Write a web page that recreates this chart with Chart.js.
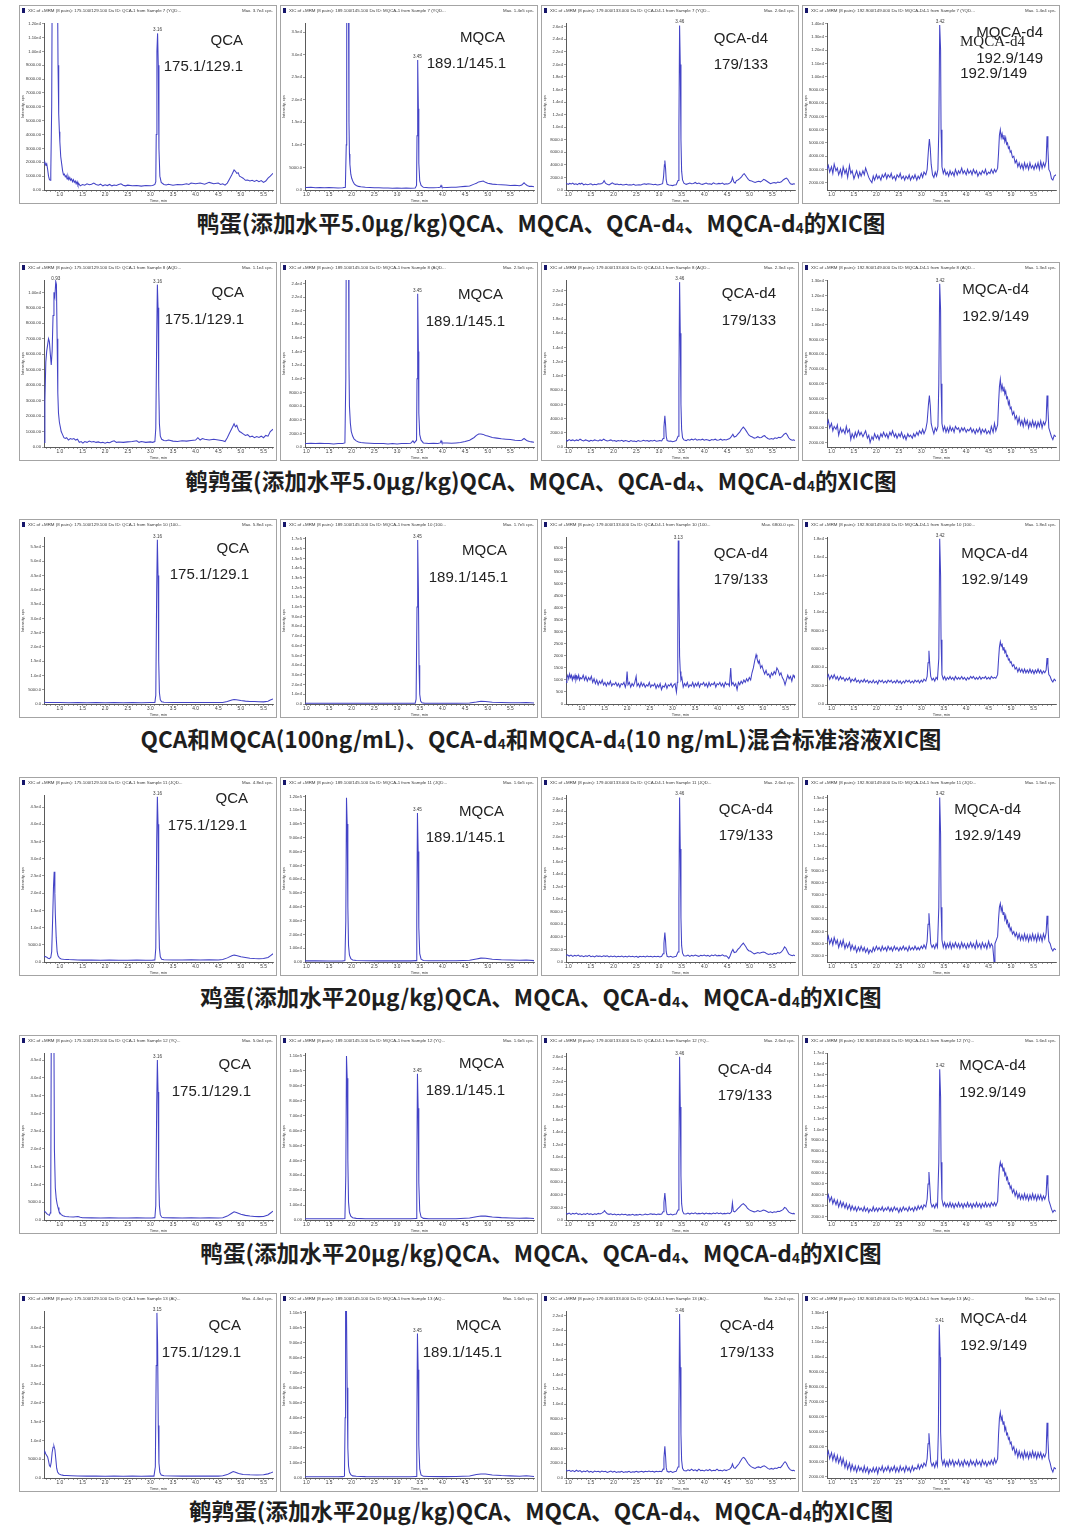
<!DOCTYPE html>
<html><head><meta charset="utf-8">
<script src="https://cdn.jsdelivr.net/npm/chart.js@4.4.1/dist/chart.umd.min.js"></script>
<style>
html,body{margin:0;padding:0;background:#fff;width:1080px;height:1528px;overflow:hidden;position:relative;}
.panel{position:absolute;width:258px;height:199px;border:1px solid #a4a4a4;box-sizing:border-box;background:#fff;}
.panel canvas{position:absolute;left:0;top:0;}
.lbl{position:absolute;font-family:"Liberation Sans",Arial,sans-serif;font-size:15px;color:#222;line-height:1;white-space:nowrap;transform:translateY(-50%);}
.lbl.serif{font-family:"Liberation Serif","Times New Roman",serif;}
.cap{position:absolute;left:0;width:1082px;text-align:center;font-family:"Noto Sans CJK SC",sans-serif;font-weight:700;font-size:22.6px;color:#1e1e1e;line-height:1;white-space:nowrap;transform:translateY(-50%);}
.cap sub{font-size:0.62em;vertical-align:-0.12em;line-height:0;}
</style></head><body>
<script>
// ---------------- data (intensities in kcps, time in min) ----------------
const COLUMN_NAMES = ['QCA','MQCA','QCA-d4','MQCA-d4'];
const TRANSITIONS = ['175.1/129.1','189.1/145.1','179/133','192.9/149'];
const HDR_ID = ['175.100/129.100 Da ID: QCA-1','189.100/145.100 Da ID: MQCA-1','179.000/133.000 Da ID: QCA-D4-1','192.900/149.000 Da ID: MQCA-D4-1'];
const SAMPLE_NO = ['7 (YQD...','8 (AQD...','10 (100...','11 (JQD...','12 (YQ...','13 (AQ...'];
const MAX_TXT = [
 'Max. 3.7e4 cps.','Max. 1.4e5 cps.','Max. 2.6e4 cps.','Max. 1.4e4 cps.',
 'Max. 1.1e4 cps.','Max. 2.5e5 cps.','Max. 2.3e4 cps.','Max. 1.3e4 cps.',
 'Max. 5.8e4 cps.','Max. 1.7e5 cps.','Max. 6800.0 cps.','Max. 1.8e4 cps.',
 'Max. 4.8e4 cps.','Max. 1.6e5 cps.','Max. 2.6e4 cps.','Max. 1.5e4 cps.',
 'Max. 5.0e4 cps.','Max. 1.6e5 cps.','Max. 2.6e4 cps.','Max. 1.6e4 cps.',
 'Max. 4.4e4 cps.','Max. 1.6e5 cps.','Max. 2.2e4 cps.','Max. 1.2e4 cps.'];
const CAPTIONS = [
 '鸭蛋(添加水平5.0μg/kg)QCA、MQCA、QCA-d<sub>4</sub>、MQCA-d<sub>4</sub>的XIC图',
 '鹌鹑蛋(添加水平5.0μg/kg)QCA、MQCA、QCA-d<sub>4</sub>、MQCA-d<sub>4</sub>的XIC图',
 'QCA和MQCA(100ng/mL)、QCA-d<sub>4</sub>和MQCA-d<sub>4</sub>(10 ng/mL)混合标准溶液XIC图',
 '鸡蛋(添加水平20μg/kg)QCA、MQCA、QCA-d<sub>4</sub>、MQCA-d<sub>4</sub>的XIC图',
 '鸭蛋(添加水平20μg/kg)QCA、MQCA、QCA-d<sub>4</sub>、MQCA-d<sub>4</sub>的XIC图',
 '鹌鹑蛋(添加水平20μg/kg)QCA、MQCA、QCA-d<sub>4</sub>、MQCA-d<sub>4</sub>的XIC图'];
const X_TICKS = [0.7,0.8,0.9,1.0,1.1,1.2,1.3,1.4,1.5,1.6,1.7,1.8,1.9,2.0,2.1,2.2,2.3,2.4,2.5,2.6,2.7,2.8,2.9,3.0,3.1,3.2,3.3,3.4,3.5,3.6,3.7,3.8,3.9,4.0,4.1,4.2,4.3,4.4,4.5,4.6,4.7,4.8,4.9,5.0,5.1,5.2,5.3,5.4,5.5,5.6,5.7,5.8,5.9,6.0];
const X_LABELS = [1.0,1.5,2.0,2.5,3.0,3.5,4.0,4.5,5.0,5.5];
const PANEL_XMIN = [0.65,0.97,0.95,0.9, 0.65,0.97,0.95,0.9, 0.65,0.97,0.65,0.9, 0.65,0.97,0.95,0.9, 0.65,0.97,0.95,0.9, 0.65,0.97,0.95,0.9];
const PANEL_XMAX = [5.71,6.02,6.0,6.0, 5.71,6.02,6.0,6.0, 5.71,6.02,5.71,6.0, 5.71,6.02,6.0,6.0, 5.71,6.02,6.0,6.0, 5.71,6.02,6.0,6.0];
const PANEL_YMIN = [0,0,0,1.45, 0,0,0,1.7, 0,0,0,0, 0,0,0,1.5, 0,0,0,1.7, 0,0,0,1.9];
const PANEL_YMAX = [12.05,37,26.6,14.05, 10.8,24.5,23.5,13.05, 58.5,172,6.95,18.2, 48.5,121,26.6,15.2, 47,112,26.6,17, 44.5,111,22.6,13.1];
const PANEL_YSTEP = [1,5,2,1, 1,2,2,1, 5,10,0.5,2, 5,10,2,1, 5,10,2,1, 5,10,2,1];
const PANEL_YDEC = [2,1,1,2, 2,1,1,2, 1,1,0,1, 1,2,1,1, 1,2,1,1, 1,2,1,2];
const PEAK_LABELS = [
 [[3.16,'3.16']],[[3.45,'3.45']],[[3.46,'3.46']],[[3.42,'3.42']],
 [[0.91,'0.93'],[3.16,'3.16']],[[3.45,'3.45']],[[3.46,'3.46']],[[3.42,'3.42']],
 [[3.16,'3.16']],[[3.45,'3.45']],[[3.13,'3.13']],[[3.42,'3.42']],
 [[3.16,'3.16']],[[3.45,'3.45']],[[3.46,'3.46']],[[3.42,'3.42']],
 [[3.16,'3.16']],[[3.45,'3.45']],[[3.46,'3.46']],[[3.42,'3.42']],
 [[3.15,'3.15']],[[3.45,'3.45']],[[3.46,'3.46']],[[3.41,'3.41']]];

// ---- series: flat [time, kcps, time, kcps, ...] ----
const R1_QCA = [0.65,1.9,0.67,2.0,0.69,1.8,0.71,1.9,0.73,1.5,0.75,1.0,0.77,0.75,0.79,0.7,0.8,1.2,0.82,6,0.83,14,0.95,14,0.96,9,0.97,6.9,0.98,5.5,0.99,4.2,1.0,3.5,1.02,2.4,1.04,1.9,1.06,1.4,1.08,1.1,1.1,1.15,1.12,0.95,1.14,1.05,1.16,0.8,1.18,1.0,1.2,0.75,1.22,0.9,1.24,0.7,1.26,0.8,1.28,0.6,1.3,0.75,1.32,0.55,1.34,0.65,1.36,0.45,1.38,0.6,1.4,0.35,1.42,0.45,1.45,0.3,1.5,0.4,1.55,0.35,1.6,0.45,1.65,0.38,1.7,0.42,1.75,0.5,1.8,0.4,1.85,0.35,1.9,0.42,1.95,0.3,2.0,0.38,2.05,0.32,2.1,0.4,2.15,0.3,2.2,0.36,2.25,0.33,2.3,0.4,2.35,0.45,2.4,0.35,2.45,0.3,2.5,0.35,2.6,0.3,2.7,0.33,2.8,0.28,2.9,0.32,3.0,0.3,3.05,0.33,3.1,0.4,3.12,0.6,3.13,4,3.145,10,3.16,11.3,3.175,9,3.19,3,3.21,1.0,3.24,0.55,3.3,0.4,3.35,0.36,3.4,0.42,3.5,0.35,3.6,0.4,3.7,0.38,3.8,0.45,3.85,0.4,3.9,0.5,4.0,0.45,4.1,0.5,4.2,0.42,4.3,0.55,4.4,0.45,4.5,0.5,4.55,0.4,4.6,0.45,4.65,0.35,4.7,0.5,4.75,0.8,4.8,1.1,4.85,1.45,4.88,1.35,4.91,1.2,4.94,1.25,4.97,1.0,5.0,0.95,5.05,0.85,5.1,0.7,5.15,0.72,5.2,0.65,5.25,0.7,5.3,0.62,5.35,0.7,5.4,0.6,5.45,0.68,5.5,0.55,5.55,0.65,5.6,0.85,5.65,1.0,5.71,1.2];
const R1_MQCA = [0.97,0.6,1.0,0.55,1.1,0.6,1.2,0.5,1.3,0.55,1.4,0.5,1.5,0.55,1.6,0.5,1.7,0.45,1.8,0.5,1.86,0.6,1.88,10,1.89,40,1.93,40,1.94,15,1.95,8,1.96,5.7,1.98,3.5,2.0,2.6,2.03,1.8,2.06,1.3,2.1,1.0,2.15,0.8,2.2,0.7,2.3,0.6,2.4,0.55,2.5,0.5,2.6,0.5,2.7,0.45,2.8,0.45,2.9,0.4,3.0,0.45,3.1,0.4,3.2,0.45,3.3,0.4,3.4,0.45,3.43,1.0,3.44,12,3.455,28.8,3.47,18,3.48,6,3.5,2.0,3.53,1.0,3.58,0.6,3.7,0.5,3.8,0.5,3.9,0.55,3.95,0.6,3.97,1.0,3.99,0.6,4.1,0.55,4.2,0.6,4.3,0.6,4.4,0.7,4.5,0.8,4.6,0.9,4.7,1.3,4.75,1.5,4.8,1.8,4.85,1.9,4.9,2.0,4.95,1.7,5.0,1.5,5.1,1.3,5.2,1.2,5.3,1.15,5.4,1.1,5.5,1.0,5.6,1.05,5.7,0.95,5.75,1.1,5.8,1.6,5.83,1.3,5.87,1.0,5.92,0.8,5.97,0.85,6.02,0.7];
const R1_QCAd4 = [0.95,1.1,1.0,0.9,1.03,1.05,1.07,0.95,1.1,1.1,1.13,0.9,1.17,1.0,1.2,0.85,1.24,1.05,1.27,0.95,1.3,1.1,1.34,0.8,1.38,0.95,1.42,0.85,1.46,0.9,1.5,1.0,1.54,0.8,1.58,0.9,1.62,0.85,1.66,1.0,1.7,0.95,1.74,1.05,1.77,1.2,1.79,1.5,1.82,1.1,1.86,0.9,1.9,0.8,1.94,1.0,1.97,1.15,2.0,1.0,2.04,0.9,2.08,0.95,2.12,0.85,2.16,0.9,2.2,0.8,2.24,0.85,2.28,0.9,2.32,0.8,2.36,0.85,2.4,0.8,2.44,0.9,2.48,0.75,2.52,0.8,2.56,0.85,2.6,0.8,2.64,0.9,2.68,1.0,2.72,0.9,2.76,1.0,2.8,0.95,2.84,0.9,2.88,0.85,2.92,0.9,2.96,0.8,3.0,0.85,3.04,0.9,3.08,1.0,3.1,2.0,3.12,4.0,3.13,4.7,3.145,3.5,3.16,1.6,3.18,0.9,3.22,0.8,3.26,0.75,3.3,0.7,3.34,0.8,3.38,0.85,3.42,1.5,3.44,10,3.455,26.2,3.47,20,3.485,8,3.5,3,3.52,1.6,3.55,1.1,3.6,0.9,3.64,1.0,3.68,1.1,3.72,1.0,3.76,1.05,3.8,1.2,3.84,1.0,3.88,1.1,3.92,0.95,3.96,0.9,4.0,1.0,4.04,1.1,4.08,0.95,4.12,1.0,4.16,0.9,4.2,1.15,4.24,1.0,4.28,0.95,4.32,1.05,4.36,1.0,4.4,1.1,4.44,0.9,4.48,1.0,4.52,0.95,4.56,1.1,4.6,1.4,4.62,2.0,4.65,1.3,4.68,1.1,4.71,1.5,4.74,1.6,4.78,1.8,4.82,2.1,4.86,2.5,4.88,2.6,4.91,2.3,4.94,2.0,4.97,1.7,5.0,1.5,5.04,1.45,5.08,1.3,5.12,1.2,5.16,1.3,5.2,1.4,5.24,1.3,5.28,1.5,5.31,1.7,5.34,1.6,5.38,1.4,5.42,1.2,5.46,1.0,5.5,1.1,5.54,1.2,5.58,1.1,5.62,1.25,5.66,1.2,5.7,1.3,5.74,1.6,5.78,1.8,5.81,1.9,5.84,1.7,5.87,1.3,5.9,1.0,5.94,0.9,5.97,1.0,6.0,0.95];
const R1_MQCAd4 = [0.9,3.0,0.93,3.3,0.96,2.8,1.0,3.2,1.03,2.7,1.06,3.4,1.1,2.9,1.13,3.1,1.16,2.6,1.2,3.0,1.23,2.5,1.26,3.2,1.3,2.7,1.33,3.0,1.36,2.4,1.4,3.3,1.43,2.7,1.46,2.9,1.5,2.3,1.53,2.6,1.56,2.9,1.6,2.4,1.63,2.8,1.66,2.5,1.7,2.9,1.73,2.6,1.76,3.1,1.8,2.7,1.83,2.4,1.86,2.2,1.9,2.0,1.93,2.5,1.96,2.2,2.0,2.6,2.03,2.3,2.06,2.5,2.1,2.2,2.13,2.6,2.16,2.4,2.2,2.7,2.23,2.3,2.26,2.6,2.3,2.4,2.33,2.7,2.36,2.3,2.4,2.5,2.43,2.2,2.46,2.6,2.5,2.4,2.53,2.7,2.56,2.3,2.6,2.5,2.63,2.2,2.66,2.5,2.7,2.3,2.73,2.6,2.76,2.2,2.8,2.5,2.83,2.3,2.86,2.6,2.9,2.2,2.93,2.5,2.96,2.3,3.0,2.7,3.03,2.4,3.06,2.8,3.1,2.6,3.13,3.0,3.16,4.5,3.18,5.3,3.2,4.6,3.22,3.4,3.25,2.6,3.28,2.4,3.31,2.8,3.34,2.5,3.37,3.0,3.39,6,3.41,13.9,3.43,12,3.44,6,3.46,3.2,3.49,2.7,3.52,3.0,3.55,2.6,3.58,2.8,3.61,2.5,3.64,2.9,3.67,2.6,3.7,2.8,3.73,2.5,3.76,3.0,3.8,2.6,3.83,2.9,3.86,2.7,3.9,3.1,3.93,2.7,3.96,2.9,4.0,2.6,4.03,3.0,4.06,2.7,4.1,2.9,4.13,2.6,4.16,3.0,4.2,2.7,4.23,2.9,4.26,2.5,4.3,2.8,4.33,2.6,4.36,2.9,4.4,2.7,4.43,3.0,4.46,2.6,4.5,2.8,4.53,2.7,4.56,3.0,4.6,2.7,4.63,3.0,4.66,2.8,4.7,3.1,4.72,4.2,4.74,5.6,4.76,6.0,4.78,5.4,4.8,5.7,4.82,5.3,4.84,5.6,4.86,5.1,4.88,5.4,4.9,4.9,4.92,5.0,4.94,4.6,4.96,4.7,4.98,4.3,5.0,4.4,5.03,3.9,5.06,4.0,5.09,3.5,5.12,3.7,5.15,3.2,5.18,3.5,5.21,3.1,5.24,3.4,5.27,3.0,5.3,3.5,5.33,3.1,5.36,3.4,5.39,3.0,5.42,3.5,5.45,3.1,5.48,3.3,5.51,3.0,5.54,3.4,5.57,3.1,5.6,3.5,5.63,3.0,5.66,3.6,5.69,3.1,5.72,3.5,5.75,3.2,5.78,3.6,5.8,5.5,5.82,4.5,5.84,3.0,5.87,2.8,5.9,2.3,5.93,2.2,5.96,2.5,6.0,2.6];

const R2_QCA = [0.655,0.3,0.67,3.0,0.69,5.5,0.71,6.2,0.73,6.6,0.75,7.0,0.77,6.8,0.79,6.0,0.81,5.3,0.83,6.2,0.85,8.5,0.87,10.0,0.89,9.7,0.91,10.7,0.925,10.5,0.94,7,0.955,3.5,0.97,2.2,0.99,1.6,1.01,1.3,1.03,1.0,1.06,0.8,1.09,0.6,1.12,0.55,1.15,0.6,1.19,0.45,1.23,0.55,1.27,0.5,1.31,0.55,1.35,0.45,1.39,0.5,1.43,0.3,1.47,0.35,1.51,0.25,1.55,0.35,1.6,0.3,1.65,0.38,1.7,0.32,1.75,0.36,1.8,0.3,1.85,0.33,1.9,0.28,1.95,0.3,2.0,0.25,2.05,0.3,2.1,0.28,2.15,0.35,2.2,0.4,2.25,0.3,2.3,0.32,2.4,0.3,2.5,0.33,2.6,0.35,2.7,0.4,2.75,0.3,2.8,0.35,2.9,0.3,3.0,0.33,3.05,0.3,3.1,0.35,3.12,1.2,3.14,7,3.155,10.5,3.17,9,3.185,4,3.2,1.5,3.22,0.7,3.25,0.5,3.3,0.42,3.35,0.4,3.4,0.45,3.5,0.38,3.6,0.35,3.7,0.4,3.8,0.38,3.9,0.42,4.0,0.45,4.05,0.6,4.1,0.45,4.15,0.55,4.2,0.5,4.3,0.45,4.4,0.5,4.5,0.45,4.6,0.4,4.65,0.35,4.7,0.6,4.75,0.9,4.8,1.2,4.85,1.5,4.88,1.3,4.91,1.4,4.94,1.15,4.97,1.0,5.0,0.95,5.05,0.85,5.1,0.75,5.15,0.8,5.2,0.65,5.25,0.7,5.3,0.6,5.35,0.68,5.4,0.62,5.45,0.7,5.5,0.6,5.55,0.75,5.6,0.7,5.65,1.0,5.71,1.15];
const R2_MQCA = [0.97,0.5,1.0,0.5,1.1,0.55,1.2,0.5,1.3,0.55,1.4,0.5,1.5,0.5,1.6,0.45,1.7,0.5,1.8,0.5,1.85,0.6,1.87,10,1.88,30,1.93,30,1.94,12,1.95,6,1.97,3.5,1.99,2.3,2.02,1.6,2.05,1.2,2.1,0.9,2.15,0.75,2.2,0.65,2.3,0.6,2.4,0.55,2.5,0.5,2.6,0.5,2.7,0.5,2.8,0.45,2.9,0.5,3.0,0.45,3.1,0.5,3.2,0.5,3.3,0.55,3.35,0.9,3.38,0.6,3.43,1.0,3.44,10,3.455,22.5,3.47,14,3.48,5,3.5,1.8,3.53,1.0,3.58,0.6,3.7,0.5,3.8,0.55,3.9,0.5,3.95,0.6,3.97,0.9,3.99,0.6,4.1,0.6,4.2,0.55,4.3,0.6,4.4,0.65,4.5,0.8,4.6,1.0,4.7,1.4,4.75,1.7,4.8,1.9,4.85,1.9,4.9,1.85,4.95,1.7,5.0,1.6,5.1,1.4,5.2,1.3,5.3,1.2,5.4,1.15,5.5,1.1,5.6,1.0,5.7,0.95,5.75,1.0,5.8,1.25,5.83,1.1,5.87,0.9,5.92,0.8,5.97,0.75,6.02,0.7];
const R2_QCAd4 = [0.95,1.0,0.98,0.85,1.02,1.05,1.06,0.9,1.1,1.0,1.14,0.85,1.18,1.0,1.22,0.9,1.26,1.1,1.3,0.95,1.34,0.85,1.38,1.0,1.42,0.9,1.46,0.8,1.5,0.95,1.54,0.85,1.58,1.0,1.62,0.9,1.66,0.85,1.7,1.0,1.74,0.9,1.78,1.1,1.82,0.95,1.86,0.85,1.9,0.9,1.94,1.0,1.98,0.85,2.02,0.9,2.06,0.8,2.1,0.9,2.14,0.85,2.18,0.95,2.22,0.8,2.26,0.9,2.3,0.85,2.34,0.75,2.38,0.9,2.42,0.8,2.46,0.85,2.5,0.75,2.54,0.9,2.58,0.8,2.62,0.85,2.66,0.95,2.7,0.85,2.74,0.9,2.78,0.8,2.82,0.9,2.86,0.85,2.9,0.95,2.94,0.8,2.98,0.85,3.02,0.9,3.06,0.85,3.09,1.2,3.11,2.8,3.13,4.4,3.145,3.2,3.16,1.5,3.18,0.9,3.22,0.8,3.26,0.85,3.3,0.75,3.34,0.8,3.38,0.9,3.42,1.5,3.44,9,3.455,23.2,3.47,16,3.485,6,3.5,2.5,3.52,1.3,3.55,1.0,3.6,0.9,3.64,1.05,3.68,0.95,3.72,1.1,3.76,1.0,3.8,1.15,3.84,0.95,3.88,1.05,3.92,1.0,3.96,1.1,4.0,0.95,4.04,1.05,4.08,1.0,4.12,0.9,4.16,1.05,4.2,1.0,4.24,1.1,4.28,0.95,4.32,1.0,4.36,1.1,4.4,0.95,4.44,1.05,4.48,1.0,4.52,1.1,4.56,1.2,4.6,1.5,4.63,1.8,4.66,1.4,4.7,1.5,4.74,1.8,4.78,2.1,4.82,2.5,4.86,2.8,4.89,2.6,4.92,2.3,4.95,2.0,4.98,1.7,5.02,1.5,5.06,1.4,5.1,1.25,5.14,1.3,5.18,1.45,5.22,1.3,5.26,1.35,5.3,1.55,5.33,1.6,5.36,1.4,5.4,1.2,5.44,1.1,5.48,1.2,5.52,1.1,5.56,1.3,5.6,1.2,5.64,1.35,5.68,1.3,5.72,1.5,5.76,1.8,5.8,1.95,5.83,1.7,5.86,1.3,5.9,1.05,5.94,0.95,5.97,1.0,6.0,0.9];
const R2_MQCAd4 = [0.9,3.2,0.93,3.5,0.96,3.0,1.0,3.3,1.03,2.8,1.06,3.1,1.1,2.9,1.13,3.2,1.16,2.5,1.2,3.0,1.23,2.7,1.26,2.9,1.3,2.6,1.33,3.1,1.36,2.7,1.4,2.9,1.43,2.2,1.46,2.6,1.5,2.3,1.53,2.7,1.56,2.4,1.6,2.8,1.63,2.5,1.66,2.7,1.7,2.4,1.73,2.6,1.76,2.8,1.8,2.3,1.83,2.5,1.86,2.0,1.9,2.4,1.93,2.2,1.96,2.6,2.0,2.3,2.03,2.5,2.06,2.2,2.1,2.6,2.13,2.4,2.16,2.7,2.2,2.4,2.23,2.6,2.26,2.3,2.3,2.7,2.33,2.5,2.36,2.8,2.4,2.4,2.43,2.6,2.46,2.3,2.5,2.6,2.53,2.4,2.56,2.7,2.6,2.3,2.63,2.5,2.66,2.2,2.7,2.6,2.73,2.4,2.76,2.5,2.8,2.3,2.83,2.6,2.86,2.4,2.9,2.7,2.93,2.5,2.96,2.8,3.0,2.6,3.03,2.9,3.06,2.6,3.1,2.9,3.13,3.4,3.16,4.6,3.18,5.2,3.2,4.5,3.22,3.3,3.25,2.9,3.28,2.6,3.31,3.0,3.34,2.8,3.37,3.1,3.39,6,3.41,12.8,3.43,11,3.44,6,3.46,3.3,3.49,2.8,3.52,3.1,3.55,2.7,3.58,3.0,3.61,2.7,3.64,3.1,3.67,2.8,3.7,3.0,3.73,2.7,3.76,3.1,3.8,2.9,3.83,3.0,3.86,2.7,3.9,3.0,3.93,2.8,3.96,3.0,4.0,2.7,4.03,2.9,4.06,2.8,4.1,3.0,4.13,2.7,4.16,2.9,4.2,2.6,4.23,2.9,4.26,2.7,4.3,3.0,4.33,2.6,4.36,2.9,4.4,2.7,4.43,2.9,4.46,2.6,4.5,2.8,4.53,2.6,4.56,3.1,4.6,2.7,4.63,3.3,4.66,2.8,4.7,3.2,4.72,4.6,4.74,5.8,4.76,6.3,4.78,5.6,4.8,5.9,4.82,5.5,4.84,5.8,4.86,5.3,4.88,5.5,4.9,5.0,4.92,5.1,4.94,4.6,4.96,4.8,4.98,4.3,5.0,4.4,5.03,3.9,5.06,4.1,5.09,3.6,5.12,3.8,5.15,3.3,5.18,3.7,5.21,3.2,5.24,3.5,5.27,3.1,5.3,3.6,5.33,3.2,5.36,3.5,5.39,3.0,5.42,3.4,5.45,3.1,5.48,3.5,5.51,3.1,5.54,3.4,5.57,3.0,5.6,3.4,5.63,3.1,5.66,3.5,5.69,3.0,5.72,3.4,5.75,3.2,5.78,3.5,5.8,5.2,5.82,4.3,5.84,3.0,5.87,2.7,5.9,2.4,5.93,2.2,5.96,2.5,6.0,2.4];

const R3_QCA = [0.65,0.6,0.7,0.55,0.8,0.5,0.9,0.55,1.0,0.5,1.2,0.45,1.4,0.5,1.6,0.45,1.8,0.5,2.0,0.45,2.2,0.5,2.4,0.45,2.6,0.5,2.8,0.45,3.0,0.5,3.1,0.55,3.12,3,3.14,40,3.155,57.5,3.17,45,3.185,15,3.2,4,3.22,1.5,3.25,0.8,3.3,0.6,3.5,0.55,3.7,0.5,3.9,0.55,4.1,0.5,4.3,0.55,4.5,0.5,4.6,0.55,4.7,0.9,4.8,1.4,4.85,1.6,4.9,1.5,5.0,1.2,5.1,1.0,5.2,0.9,5.3,0.85,5.4,0.8,5.5,0.75,5.6,1.0,5.65,1.4,5.71,1.8];
const R3_MQCA = [0.97,0.8,1.2,0.8,1.5,0.75,1.8,0.8,2.1,0.75,2.4,0.8,2.7,0.75,3.0,0.8,3.3,0.8,3.4,0.9,3.42,5,3.44,100,3.455,169,3.47,120,3.485,40,3.5,10,3.52,3,3.55,1.2,3.6,0.9,3.8,0.8,4.0,0.85,4.3,0.8,4.6,1.0,4.75,2.0,4.85,2.8,4.95,2.6,5.1,1.8,5.3,1.5,5.5,1.3,5.7,1.2,5.85,1.5,6.02,1.0];
const R3_QCAd4 = [0.65,0.9,0.67,1.1,0.69,1.2,0.71,1.05,0.73,1.25,0.75,1.1,0.77,1.2,0.79,1.0,0.81,1.15,0.83,1.05,0.85,1.2,0.87,1.0,0.89,1.15,0.91,1.05,0.93,1.2,0.95,1.0,0.97,1.1,1.0,1.05,1.03,1.2,1.06,1.0,1.09,1.15,1.12,0.95,1.15,1.1,1.18,1.0,1.21,1.15,1.24,0.9,1.27,1.05,1.3,0.85,1.33,1.0,1.36,0.8,1.39,0.95,1.42,0.85,1.45,1.0,1.48,0.8,1.51,0.9,1.54,0.75,1.57,0.9,1.6,0.8,1.63,0.95,1.66,0.75,1.69,0.85,1.72,0.8,1.75,0.9,1.78,0.75,1.81,0.85,1.84,0.7,1.87,0.85,1.9,0.8,1.93,0.9,1.96,0.7,1.98,0.85,2.0,1.35,2.02,0.8,2.05,0.9,2.08,0.7,2.11,0.85,2.14,0.75,2.17,0.9,2.2,1.15,2.22,0.75,2.25,0.85,2.28,0.7,2.31,0.9,2.34,0.75,2.37,0.85,2.4,0.7,2.43,0.8,2.46,0.75,2.49,0.9,2.52,0.7,2.55,0.8,2.58,0.75,2.61,0.85,2.64,0.65,2.67,0.8,2.7,0.7,2.73,0.85,2.76,0.6,2.79,0.75,2.82,0.7,2.85,0.85,2.88,0.65,2.91,0.8,2.94,0.75,2.97,0.85,3.0,0.7,3.03,0.8,3.06,0.85,3.09,0.5,3.11,0.9,3.12,3,3.13,6.8,3.145,5,3.16,2,3.175,1.35,3.19,1.0,3.21,1.1,3.24,0.7,3.27,0.85,3.3,0.75,3.33,0.9,3.36,0.7,3.39,0.8,3.42,0.75,3.45,0.9,3.48,0.7,3.51,0.85,3.54,0.75,3.57,0.9,3.6,0.7,3.63,0.85,3.66,0.8,3.69,0.9,3.72,0.75,3.75,0.85,3.78,0.7,3.81,0.9,3.84,0.75,3.87,0.85,3.9,0.8,3.93,0.9,3.96,0.7,3.99,0.85,4.02,0.8,4.05,0.9,4.08,0.75,4.11,0.85,4.14,0.7,4.17,0.9,4.2,0.8,4.23,0.85,4.26,0.75,4.29,1.5,4.31,0.8,4.34,0.9,4.37,0.75,4.4,0.85,4.43,0.6,4.46,0.9,4.49,0.8,4.52,0.95,4.55,0.85,4.58,1.0,4.61,0.9,4.64,1.05,4.67,0.95,4.7,1.1,4.73,1.0,4.76,1.3,4.79,1.5,4.82,1.8,4.85,2.05,4.87,1.9,4.9,1.7,4.92,1.8,4.95,1.5,4.98,1.6,5.01,1.4,5.04,1.25,5.07,1.4,5.1,1.2,5.13,1.25,5.16,1.1,5.19,1.3,5.22,1.2,5.25,1.35,5.28,1.25,5.31,1.5,5.34,1.4,5.37,1.2,5.4,1.3,5.43,1.1,5.46,1.0,5.49,0.8,5.52,1.0,5.55,1.2,5.58,1.05,5.61,1.15,5.64,0.95,5.67,1.2,5.7,1.1,5.71,1.2];
const R3_MQCAd4 = [0.9,2.9,0.93,3.2,0.96,2.7,1.0,3.1,1.03,2.8,1.06,3.2,1.1,2.7,1.13,3.0,1.16,2.6,1.2,3.0,1.23,2.7,1.26,2.9,1.3,2.5,1.33,2.8,1.36,2.6,1.4,2.9,1.43,2.4,1.46,2.7,1.5,2.5,1.53,2.8,1.56,2.4,1.6,2.6,1.63,2.3,1.66,2.6,1.7,2.4,1.73,2.7,1.76,2.4,1.8,2.6,1.83,2.3,1.86,2.5,1.9,2.3,1.93,2.6,1.96,2.3,2.0,2.5,2.03,2.2,2.06,2.6,2.1,2.4,2.13,2.6,2.16,2.3,2.2,2.5,2.23,2.3,2.26,2.6,2.3,2.4,2.33,2.6,2.36,2.3,2.4,2.5,2.43,2.3,2.46,2.6,2.5,2.3,2.53,2.5,2.56,2.2,2.6,2.5,2.63,2.3,2.66,2.6,2.7,2.4,2.73,2.6,2.76,2.3,2.8,2.5,2.83,2.3,2.86,2.6,2.9,2.4,2.93,2.6,2.96,2.3,3.0,2.6,3.03,2.4,3.06,2.7,3.1,2.5,3.13,3.0,3.15,4.5,3.17,5.8,3.19,4.2,3.21,3.0,3.24,2.6,3.27,2.8,3.3,2.5,3.33,2.9,3.36,2.7,3.39,5,3.41,18.0,3.43,14,3.44,7,3.46,3.2,3.49,2.7,3.52,3.0,3.55,2.6,3.58,2.9,3.61,2.7,3.64,3.0,3.67,2.7,3.7,2.9,3.73,2.6,3.76,3.0,3.8,2.7,3.83,2.9,3.86,2.7,3.9,3.0,3.93,2.7,3.96,2.9,4.0,2.6,4.03,2.9,4.06,2.7,4.1,3.0,4.13,2.8,4.16,3.0,4.2,2.7,4.23,2.9,4.26,2.7,4.3,3.0,4.33,2.7,4.36,2.9,4.4,2.8,4.43,3.0,4.46,2.7,4.5,2.9,4.53,2.7,4.56,3.0,4.6,2.8,4.63,2.9,4.66,2.8,4.7,3.2,4.72,4.8,4.74,6.2,4.76,6.8,4.78,6.3,4.8,6.5,4.82,5.9,4.84,6.2,4.86,5.6,4.88,5.8,4.9,5.2,4.92,5.3,4.94,4.8,4.96,4.9,4.98,4.5,5.0,4.6,5.03,4.1,5.06,4.3,5.09,3.8,5.12,4.0,5.15,3.5,5.18,3.9,5.21,3.5,5.24,3.8,5.27,3.4,5.3,3.8,5.33,3.4,5.36,3.7,5.39,3.4,5.42,3.8,5.45,3.4,5.48,3.7,5.51,3.3,5.54,3.7,5.57,3.4,5.6,3.8,5.63,3.4,5.66,3.7,5.69,3.3,5.72,3.6,5.75,3.4,5.78,3.7,5.8,5.0,5.82,4.2,5.84,3.2,5.87,3.0,5.9,2.6,5.93,2.4,5.96,2.7,6.0,2.5];

const R4_QCA = [0.65,1.5,0.68,1.6,0.71,1.4,0.74,1.1,0.77,1.0,0.8,1.3,0.82,3,0.84,12,0.86,22,0.875,26.2,0.89,20,0.9,14,0.92,7,0.94,3,0.96,1.8,0.99,1.2,1.03,0.9,1.08,0.8,1.15,0.75,1.2,0.7,1.3,0.65,1.4,0.6,1.5,0.55,1.7,0.55,1.9,0.5,2.1,0.55,2.3,0.5,2.5,0.5,2.7,0.55,2.9,0.5,3.05,0.55,3.1,0.6,3.12,4,3.14,35,3.155,48,3.17,40,3.185,14,3.2,4,3.22,1.5,3.25,0.8,3.3,0.65,3.5,0.6,3.7,0.6,3.9,0.65,4.1,0.6,4.3,0.65,4.5,0.6,4.6,0.7,4.7,1.2,4.8,1.8,4.85,2.0,4.9,1.9,5.0,1.5,5.1,1.3,5.2,1.1,5.3,1.0,5.4,0.95,5.5,1.0,5.6,1.3,5.65,1.8,5.71,2.4];
const R4_MQCA = [0.97,0.8,1.2,0.8,1.5,0.75,1.8,0.8,1.85,1.0,1.87,30,1.885,119,1.9,100,1.915,40,1.93,12,1.95,5,1.98,2.5,2.02,1.5,2.1,1.1,2.3,0.9,2.6,0.8,3.0,0.8,3.3,0.8,3.42,1.0,3.435,30,3.45,108,3.465,80,3.48,25,3.5,6,3.53,2,3.58,1.1,3.7,0.9,4.0,0.85,4.3,0.9,4.6,1.2,4.75,2.2,4.85,2.8,4.95,2.7,5.1,2.0,5.3,1.6,5.5,1.4,5.7,1.2,5.85,1.4,6.02,1.0];
const R4_QCAd4 = [0.95,1.0,0.98,1.15,1.02,0.95,1.06,1.1,1.1,0.9,1.14,1.05,1.18,0.95,1.22,1.1,1.26,0.9,1.3,1.0,1.34,0.85,1.38,1.0,1.42,0.9,1.46,1.05,1.5,0.85,1.54,0.95,1.58,0.8,1.62,1.0,1.66,0.9,1.7,0.95,1.74,0.85,1.78,1.0,1.82,0.9,1.86,1.0,1.9,0.8,1.94,0.95,1.98,0.85,2.02,0.95,2.06,0.8,2.1,0.9,2.14,0.85,2.18,0.95,2.22,0.8,2.26,0.9,2.3,0.8,2.34,0.95,2.38,0.85,2.42,0.9,2.46,0.8,2.5,0.9,2.54,0.75,2.58,0.9,2.62,0.85,2.66,0.9,2.7,0.8,2.74,0.95,2.78,0.85,2.82,0.9,2.86,0.8,2.9,0.9,2.94,0.85,2.98,0.9,3.02,0.8,3.06,0.9,3.09,1.3,3.11,3.0,3.13,4.7,3.145,3.4,3.16,1.6,3.18,0.9,3.22,0.8,3.26,0.9,3.3,0.75,3.34,0.85,3.38,0.9,3.42,1.6,3.44,10,3.455,26.2,3.47,18,3.485,7,3.5,2.6,3.52,1.4,3.55,1.0,3.6,0.95,3.64,1.1,3.68,0.9,3.72,1.05,3.76,0.95,3.8,1.1,3.84,1.0,3.88,0.9,3.92,1.05,3.96,1.0,4.0,1.1,4.04,0.95,4.08,1.05,4.12,0.9,4.16,1.1,4.2,1.0,4.24,1.15,4.28,0.95,4.32,1.05,4.36,1.0,4.4,1.15,4.44,0.95,4.48,1.0,4.51,0.8,4.54,0.55,4.57,1.0,4.6,1.6,4.63,2.0,4.66,1.5,4.7,1.6,4.74,2.0,4.78,2.3,4.82,2.7,4.86,3.0,4.89,2.7,4.92,2.4,4.95,2.0,4.98,1.8,5.02,1.7,5.06,1.5,5.1,1.3,5.14,1.4,5.18,1.5,5.22,1.4,5.26,1.5,5.3,1.6,5.34,1.5,5.38,1.3,5.42,1.2,5.46,1.3,5.5,1.2,5.54,1.4,5.58,1.3,5.62,1.5,5.66,1.4,5.7,1.6,5.74,2.0,5.77,2.4,5.8,2.2,5.83,1.7,5.86,1.3,5.9,1.1,5.94,1.0,5.97,1.1,6.0,1.0];
const R4_MQCAd4 = [0.9,3.2,0.93,3.6,0.96,3.0,1.0,3.4,1.03,2.9,1.06,3.5,1.1,3.0,1.13,3.3,1.16,2.7,1.2,3.2,1.23,2.8,1.26,3.3,1.3,2.6,1.33,3.0,1.36,2.7,1.4,3.1,1.43,2.5,1.46,2.9,1.5,2.5,1.53,2.8,1.56,2.3,1.6,2.7,1.63,2.4,1.66,2.8,1.7,2.4,1.73,2.7,1.76,2.3,1.8,2.6,1.83,2.2,1.86,2.5,1.9,2.3,1.93,2.7,1.96,2.4,2.0,2.8,2.03,2.5,2.06,2.7,2.1,2.4,2.13,2.8,2.16,2.5,2.2,2.7,2.23,2.4,2.26,2.8,2.3,2.5,2.33,2.7,2.36,2.4,2.4,2.8,2.43,2.5,2.46,2.7,2.5,2.4,2.53,2.7,2.56,2.5,2.6,2.8,2.63,2.5,2.66,2.7,2.7,2.4,2.73,2.8,2.76,2.5,2.8,2.7,2.83,2.5,2.86,2.8,2.9,2.5,2.93,2.7,2.96,2.5,3.0,2.8,3.03,2.6,3.06,2.9,3.1,2.6,3.13,3.2,3.15,4.6,3.17,5.5,3.19,4.3,3.21,3.0,3.24,2.7,3.27,2.9,3.3,2.6,3.33,3.0,3.36,2.7,3.39,6,3.41,15.0,3.43,12,3.44,6,3.46,3.3,3.49,2.7,3.52,3.1,3.55,2.6,3.58,3.0,3.61,2.7,3.64,3.1,3.67,2.6,3.7,3.0,3.73,2.7,3.76,3.1,3.8,2.7,3.83,3.0,3.86,2.6,3.9,3.1,3.93,2.7,3.96,3.0,4.0,2.6,4.03,3.0,4.06,2.7,4.1,3.1,4.13,2.7,4.16,3.0,4.2,2.6,4.23,3.2,4.26,2.7,4.3,3.0,4.33,2.6,4.36,3.1,4.4,2.7,4.43,3.0,4.46,2.6,4.5,3.2,4.53,2.7,4.56,3.0,4.59,2.8,4.61,2.0,4.62,1.5,4.64,3.0,4.67,3.3,4.7,3.6,4.72,5.0,4.74,6.0,4.76,6.3,4.78,5.7,4.8,6.0,4.82,5.4,4.84,5.6,4.86,5.0,4.88,5.3,4.9,4.7,4.92,4.9,4.94,4.4,4.96,4.6,4.98,4.1,5.0,4.3,5.03,3.8,5.06,4.0,5.09,3.6,5.12,3.9,5.15,3.4,5.18,3.8,5.21,3.3,5.24,3.7,5.27,3.3,5.3,3.8,5.33,3.3,5.36,3.7,5.39,3.2,5.42,3.7,5.45,3.3,5.48,3.8,5.51,3.3,5.54,3.7,5.57,3.2,5.6,3.8,5.63,3.3,5.66,3.7,5.69,3.2,5.72,3.8,5.75,3.4,5.78,3.9,5.8,5.3,5.82,4.4,5.84,3.2,5.87,3.0,5.9,2.6,5.93,2.4,5.96,2.6,6.0,2.5];

const R5_QCA = [0.65,2.5,0.68,2.3,0.71,1.8,0.74,1.5,0.77,1.3,0.79,2.0,0.8,10,0.81,50,0.87,50,0.88,20,0.9,9,0.92,6,0.94,4.5,0.96,3.5,0.98,2.5,1.0,2.0,1.03,1.5,1.07,1.2,1.12,1.0,1.2,0.9,1.3,0.85,1.4,1.0,1.45,0.75,1.5,0.65,1.7,0.6,1.9,0.55,2.1,0.6,2.3,0.55,2.5,0.55,2.7,0.6,2.9,0.55,3.05,0.6,3.1,0.65,3.12,4,3.14,32,3.155,45,3.17,36,3.185,12,3.2,4,3.22,1.5,3.25,0.8,3.3,0.65,3.5,0.6,3.7,0.55,3.9,0.6,4.1,0.55,4.3,0.6,4.5,0.55,4.6,0.65,4.7,1.1,4.8,1.9,4.85,2.3,4.9,2.1,5.0,1.6,5.1,1.3,5.2,1.1,5.3,1.0,5.4,0.95,5.5,1.0,5.6,1.4,5.65,1.9,5.71,2.5];
const R5_MQCA = [0.97,0.8,1.2,0.8,1.5,0.8,1.8,0.85,1.85,1.0,1.87,30,1.885,110,1.9,95,1.915,40,1.93,12,1.95,5,1.98,2.5,2.02,1.5,2.1,1.1,2.3,0.9,2.6,0.85,3.0,0.8,3.3,0.85,3.42,1.0,3.435,30,3.45,98,3.465,75,3.48,25,3.5,6,3.53,2,3.58,1.1,3.7,0.9,4.0,0.85,4.3,0.9,4.6,1.3,4.75,2.2,4.85,2.7,4.95,2.6,5.1,2.0,5.3,1.6,5.5,1.4,5.7,1.2,5.85,1.4,6.02,1.0];
const R5_QCAd4 = [0.95,1.1,0.98,0.95,1.02,1.1,1.06,0.9,1.1,1.05,1.14,0.95,1.18,1.1,1.22,0.9,1.26,1.0,1.3,0.85,1.34,1.0,1.38,0.9,1.42,1.05,1.46,0.9,1.5,1.0,1.54,0.85,1.58,1.0,1.62,0.9,1.66,1.05,1.7,0.95,1.74,1.1,1.78,1.3,1.8,1.5,1.83,1.2,1.86,1.0,1.9,0.9,1.94,1.0,1.98,0.85,2.02,0.95,2.06,0.8,2.1,0.9,2.14,0.8,2.18,0.95,2.22,0.85,2.26,0.9,2.3,0.75,2.34,0.85,2.38,0.8,2.42,0.9,2.46,0.75,2.5,0.85,2.54,0.8,2.58,0.9,2.62,0.8,2.66,0.85,2.7,0.95,2.74,0.85,2.78,0.9,2.82,1.0,2.86,0.9,2.9,0.95,2.94,0.85,2.98,0.95,3.02,0.9,3.06,0.95,3.09,1.3,3.11,2.8,3.13,4.3,3.145,3.1,3.16,1.5,3.18,0.9,3.22,0.85,3.26,0.95,3.3,0.8,3.34,0.9,3.38,0.95,3.42,1.6,3.44,10,3.455,26,3.47,18,3.485,7,3.5,2.6,3.52,1.4,3.55,1.0,3.6,0.95,3.64,1.1,3.68,0.95,3.72,1.1,3.76,1.0,3.8,1.15,3.84,0.95,3.88,1.05,3.92,1.0,3.96,1.1,4.0,0.95,4.04,1.1,4.08,1.0,4.12,1.05,4.16,0.95,4.2,1.1,4.24,1.0,4.28,1.15,4.32,1.0,4.36,1.1,4.4,0.95,4.44,1.05,4.48,1.0,4.52,1.1,4.56,1.0,4.6,1.3,4.62,2.7,4.64,1.4,4.67,1.3,4.7,1.5,4.74,1.8,4.78,2.1,4.82,2.4,4.86,2.6,4.89,2.4,4.92,2.2,4.95,1.9,4.98,1.7,5.02,1.5,5.06,1.4,5.1,1.3,5.14,1.35,5.18,1.5,5.22,1.35,5.26,1.45,5.3,1.6,5.34,1.5,5.38,1.35,5.42,1.2,5.46,1.3,5.5,1.15,5.54,1.3,5.58,1.25,5.62,1.4,5.66,1.35,5.7,1.5,5.74,1.7,5.77,2.0,5.8,1.9,5.83,1.6,5.86,1.3,5.9,1.1,5.94,1.0,5.97,1.05,6.0,0.95];
const R5_MQCAd4 = [0.9,3.6,0.93,4.0,0.96,3.4,1.0,3.8,1.03,3.2,1.06,3.6,1.1,3.1,1.13,3.5,1.16,2.9,1.2,3.4,1.23,2.9,1.26,3.3,1.3,2.8,1.33,3.2,1.36,2.7,1.4,3.1,1.43,2.6,1.46,3.0,1.5,2.6,1.53,2.9,1.56,2.5,1.6,2.9,1.63,2.6,1.66,2.8,1.7,2.5,1.73,2.9,1.76,2.5,1.8,2.8,1.83,2.4,1.86,2.7,1.9,2.5,1.93,2.9,1.96,2.5,2.0,2.8,2.03,2.5,2.06,2.8,2.1,2.6,2.13,2.9,2.16,2.5,2.2,2.8,2.23,2.6,2.26,2.9,2.3,2.5,2.33,2.8,2.36,2.5,2.4,2.9,2.43,2.6,2.46,2.8,2.5,2.4,2.53,2.8,2.56,2.5,2.6,2.9,2.63,2.6,2.66,2.8,2.7,2.5,2.73,2.9,2.76,2.6,2.8,2.8,2.83,2.5,2.86,2.9,2.9,2.6,2.93,3.0,2.96,2.7,3.0,3.0,3.03,2.7,3.06,3.1,3.1,2.9,3.13,3.6,3.15,5.0,3.17,6.1,3.19,4.8,3.21,3.3,3.24,2.9,3.27,3.1,3.3,2.8,3.33,3.2,3.36,2.9,3.39,7,3.41,15.5,3.43,13,3.44,7,3.46,3.6,3.49,3.0,3.52,3.3,3.55,2.9,3.58,3.2,3.61,2.9,3.64,3.3,3.67,2.9,3.7,3.2,3.73,2.8,3.76,3.2,3.8,2.9,3.83,3.3,3.86,2.9,3.9,3.2,3.93,2.8,3.96,3.2,4.0,2.9,4.03,3.3,4.06,2.9,4.1,3.2,4.13,2.8,4.16,3.2,4.2,2.9,4.23,3.3,4.26,2.9,4.3,3.2,4.33,2.8,4.36,3.2,4.4,2.9,4.43,3.3,4.46,2.9,4.5,3.2,4.53,2.9,4.56,3.3,4.6,3.0,4.63,3.3,4.66,3.0,4.7,3.4,4.72,5.2,4.74,6.5,4.76,7.0,4.78,6.6,4.8,6.8,4.82,6.2,4.84,6.5,4.86,5.8,4.88,6.0,4.9,5.4,4.92,5.6,4.94,5.0,4.96,5.1,4.98,4.6,5.0,4.8,5.03,4.2,5.06,4.5,5.09,3.9,5.12,4.3,5.15,3.7,5.18,4.1,5.21,3.6,5.24,4.0,5.27,3.6,5.3,4.1,5.33,3.6,5.36,4.0,5.39,3.5,5.42,4.0,5.45,3.6,5.48,4.1,5.51,3.6,5.54,4.0,5.57,3.5,5.6,4.0,5.63,3.6,5.66,4.0,5.69,3.5,5.72,3.9,5.75,3.6,5.78,4.0,5.8,5.8,5.82,4.8,5.84,3.5,5.87,3.1,5.9,2.7,5.93,2.4,5.96,2.6,6.0,2.5];

const R6_QCA = [0.65,6.7,0.67,7.0,0.69,6.4,0.71,6.0,0.73,5.6,0.75,4.6,0.77,3.3,0.79,3.0,0.81,4.2,0.83,6.8,0.85,8.2,0.87,8.5,0.89,7.6,0.91,5.2,0.93,2.6,0.95,1.6,0.98,1.1,1.02,0.85,1.08,0.7,1.15,0.65,1.25,0.6,1.4,0.55,1.6,0.5,1.8,0.5,2.0,0.45,2.2,0.5,2.4,0.45,2.6,0.5,2.8,0.45,3.0,0.5,3.08,0.5,3.11,3,3.13,30,3.145,44,3.16,36,3.175,14,3.19,4,3.21,1.5,3.24,0.8,3.3,0.6,3.5,0.55,3.7,0.5,3.9,0.55,4.1,0.5,4.3,0.55,4.5,0.5,4.6,0.6,4.7,0.9,4.78,1.4,4.83,1.7,4.88,1.5,4.95,1.2,5.05,0.95,5.2,0.85,5.35,0.8,5.5,0.85,5.6,1.1,5.65,1.3,5.71,1.6];
const R6_MQCA = [0.97,0.8,1.2,0.8,1.5,0.8,1.7,0.85,1.8,0.9,1.84,1.2,1.855,40,1.865,111,1.875,105,1.885,111,1.9,60,1.915,20,1.93,8,1.95,4,1.98,2.2,2.02,1.4,2.1,1.1,2.3,0.9,2.6,0.85,3.0,0.85,3.3,0.85,3.42,1.0,3.435,30,3.45,96,3.465,72,3.48,22,3.5,6,3.53,2,3.58,1.1,3.7,0.95,4.0,0.9,4.3,0.95,4.6,1.3,4.75,2.3,4.85,2.7,4.95,2.6,5.1,2.0,5.3,1.6,5.5,1.4,5.7,1.2,5.85,1.5,6.02,1.0];
const R6_QCAd4 = [0.95,1.1,0.98,0.95,1.02,1.05,1.06,0.9,1.1,1.0,1.14,0.85,1.18,1.05,1.22,0.9,1.26,1.0,1.3,0.8,1.34,0.95,1.38,0.85,1.42,1.0,1.46,0.8,1.5,0.9,1.54,0.75,1.58,0.95,1.62,0.85,1.66,0.9,1.7,0.8,1.74,0.95,1.78,0.85,1.82,0.9,1.86,0.75,1.9,0.85,1.94,0.95,1.98,0.8,2.02,0.9,2.06,0.75,2.1,0.85,2.14,0.8,2.18,0.9,2.22,0.75,2.26,0.85,2.3,0.8,2.34,0.9,2.38,0.75,2.42,0.85,2.46,0.8,2.5,0.9,2.54,0.8,2.58,0.85,2.62,0.9,2.66,0.8,2.7,0.9,2.74,0.85,2.78,0.95,2.82,0.85,2.86,0.9,2.9,0.8,2.94,0.9,2.98,0.85,3.02,0.9,3.06,0.85,3.09,1.2,3.11,2.7,3.13,4.3,3.145,3.0,3.16,1.4,3.18,0.9,3.22,0.8,3.26,0.9,3.3,0.75,3.34,0.85,3.38,0.9,3.42,1.5,3.44,9,3.455,22.2,3.47,15,3.485,6,3.5,2.4,3.52,1.3,3.55,1.0,3.6,0.95,3.64,1.1,3.68,1.0,3.72,1.2,3.76,1.0,3.8,1.1,3.84,0.95,3.88,1.2,3.92,1.0,3.96,1.05,4.0,0.95,4.04,1.1,4.08,1.0,4.12,1.15,4.16,0.95,4.2,1.05,4.24,1.0,4.28,1.2,4.32,1.0,4.36,1.05,4.4,0.95,4.44,1.1,4.48,1.0,4.52,1.1,4.56,1.2,4.6,1.5,4.62,1.9,4.65,1.4,4.68,1.3,4.72,1.6,4.76,1.9,4.8,2.3,4.84,2.7,4.87,2.8,4.9,2.6,4.93,2.3,4.96,2.0,5.0,1.7,5.04,1.5,5.08,1.4,5.12,1.3,5.16,1.45,5.2,1.5,5.24,1.4,5.28,1.55,5.32,1.65,5.36,1.5,5.4,1.3,5.44,1.2,5.48,1.3,5.52,1.2,5.56,1.35,5.6,1.3,5.64,1.45,5.68,1.4,5.72,1.7,5.75,2.0,5.78,2.2,5.81,2.0,5.84,1.6,5.87,1.3,5.9,1.1,5.94,1.0,5.97,1.05,6.0,0.95];
const R6_MQCAd4 = [0.9,3.4,0.93,3.7,0.96,3.2,1.0,3.6,1.03,3.1,1.06,3.5,1.1,3.0,1.13,3.4,1.16,2.9,1.2,3.3,1.23,2.8,1.26,3.2,1.3,2.6,1.33,3.0,1.36,2.5,1.4,2.9,1.43,2.4,1.46,2.8,1.5,2.4,1.53,2.7,1.56,2.3,1.6,2.7,1.63,2.4,1.66,2.6,1.7,2.3,1.73,2.7,1.76,2.3,1.8,2.6,1.83,2.2,1.86,2.5,1.9,2.3,1.93,2.6,1.96,2.3,2.0,2.6,2.03,2.2,2.06,2.6,2.1,2.4,2.13,2.7,2.16,2.3,2.2,2.6,2.23,2.4,2.26,2.7,2.3,2.3,2.33,2.6,2.36,2.4,2.4,2.7,2.43,2.3,2.46,2.6,2.5,2.3,2.53,2.7,2.56,2.4,2.6,2.6,2.63,2.3,2.66,2.7,2.7,2.4,2.73,2.6,2.76,2.3,2.8,2.7,2.83,2.4,2.86,2.6,2.9,2.5,2.93,2.8,2.96,2.5,3.0,2.8,3.03,2.6,3.06,2.9,3.1,2.7,3.13,3.2,3.15,4.2,3.17,4.9,3.19,4.0,3.21,3.0,3.24,2.7,3.27,2.9,3.3,2.6,3.33,3.0,3.36,2.7,3.38,5,3.4,12.2,3.42,10,3.43,5,3.45,3.2,3.48,2.8,3.51,3.1,3.54,2.7,3.57,3.0,3.6,2.7,3.63,3.1,3.66,2.8,3.7,3.1,3.73,2.7,3.76,3.0,3.8,2.8,3.83,3.1,3.86,2.7,3.9,3.0,3.93,2.7,3.96,3.1,4.0,2.8,4.03,3.0,4.06,2.7,4.1,3.1,4.13,2.8,4.16,3.0,4.2,2.7,4.23,3.1,4.26,2.8,4.3,3.0,4.33,2.7,4.36,3.1,4.4,2.8,4.43,3.0,4.46,2.7,4.5,3.0,4.53,2.8,4.56,3.1,4.6,2.8,4.63,3.2,4.66,2.9,4.7,3.2,4.72,4.8,4.74,5.9,4.76,6.3,4.78,5.8,4.8,6.0,4.82,5.5,4.84,5.7,4.86,5.1,4.88,5.3,4.9,4.8,4.92,4.9,4.94,4.5,4.96,4.6,4.98,4.2,5.0,4.3,5.03,3.8,5.06,4.0,5.09,3.5,5.12,3.8,5.15,3.3,5.18,3.7,5.21,3.3,5.24,3.6,5.27,3.2,5.3,3.7,5.33,3.3,5.36,3.6,5.39,3.2,5.42,3.6,5.45,3.3,5.48,3.7,5.51,3.3,5.54,3.6,5.57,3.2,5.6,3.6,5.63,3.3,5.66,3.6,5.69,3.2,5.72,3.5,5.75,3.3,5.78,3.6,5.8,5.6,5.82,4.5,5.84,3.2,5.87,2.9,5.9,2.5,5.93,2.3,5.96,2.6,6.0,2.5];

const SERIES = [R1_QCA,R1_MQCA,R1_QCAd4,R1_MQCAd4, R2_QCA,R2_MQCA,R2_QCAd4,R2_MQCAd4, R3_QCA,R3_MQCA,R3_QCAd4,R3_MQCAd4, R4_QCA,R4_MQCA,R4_QCAd4,R4_MQCAd4, R5_QCA,R5_MQCA,R5_QCAd4,R5_MQCAd4, R6_QCA,R6_MQCA,R6_QCAd4,R6_MQCAd4];

// ---------------- layout (positions / styles) ----------------
const ROW_TOP = [5, 262, 519, 777, 1035, 1293];
const COL_LEFT = [19, 280, 541, 802];
const CAP_Y = [223, 481, 739, 997, 1253, 1511];
// [panelIndex, textKind(0=name,1=transition), rightX, centerY, serif]
const LABEL_POS = [
 [0,0,243,39],[0,1,243,65],[1,0,505,36],[1,1,506,62],[2,0,768,37],[2,1,768,63],
 [3,0,1043,31],[3,0,1025,41,1],[3,1,1043,57],[3,1,1027,72],
 [4,0,244,291],[4,1,244,318],[5,0,503,293],[5,1,505,320],[6,0,776,292],[6,1,776,319],[7,0,1029,288],[7,1,1029,315],
 [8,0,249,547],[8,1,249,573],[9,0,507,549],[9,1,508,576],[10,0,768,552],[10,1,768,578],[11,0,1028,552],[11,1,1028,578],
 [12,0,248,797],[12,1,247,824],[13,0,504,810],[13,1,505,836],[14,0,773,808],[14,1,773,834],[15,0,1021,808],[15,1,1021,834],
 [16,0,251,1063],[16,1,251,1090],[17,0,504,1062],[17,1,505,1089],[18,0,772,1068],[18,1,772,1094],[19,0,1026,1064],[19,1,1026,1091],
 [20,0,241,1324],[20,1,241,1351],[21,0,501,1324],[21,1,502,1351],[22,0,774,1324],[22,1,774,1351],[23,0,1027,1317],[23,1,1027,1344]];

const LINE_COLOR = '#4343c6';
const AXIS_COLOR = '#5a5a5a';
const TXT_COLOR = '#3a3a3a';
const FONT = '"Liberation Sans", Arial, sans-serif';

function toXY(a){ const o=[]; for(let i=0;i<a.length;i+=2) o.push({x:a[i],y:a[i+1]}); return o; }
function fmtY(k, dec){
  const v = Math.round(k*1000*1000)/1000;
  if (v === 0) return (0).toFixed(dec);
  if (v >= 1e4){ const e = Math.floor(Math.log10(v)+1e-9); return (v/Math.pow(10,e)).toFixed(Math.max(dec,1))+'e'+e; }
  return v.toFixed(dec);
}

function makeChart(i){
  const r = Math.floor(i/4), c = i%4;
  const div = document.createElement('div'); div.className='panel';
  div.style.left = COL_LEFT[c]+'px'; div.style.top = ROW_TOP[r]+'px';
  const cv = document.createElement('canvas'); cv.width=256; cv.height=197;
  cv.style.width='256px'; cv.style.height='197px';
  div.appendChild(cv); document.body.appendChild(div);
  const ymin = PANEL_YMIN[i], ymax = PANEL_YMAX[i], ystep = PANEL_YSTEP[i], ydec = PANEL_YDEC[i];
  const data = toXY(SERIES[i]);
  const hdrLeft = 'XIC of +MRM (8 pairs): ' + HDR_ID[c] + ' from Sample ' + SAMPLE_NO[r];
  const hdrRight = MAX_TXT[i];
  const peaks = PEAK_LABELS[i];
  const headerPlugin = { id:'hdr'+i, afterDraw(chart){
    const g = chart.ctx; g.save();
    g.fillStyle = '#15156a'; g.fillRect(2,2,3,5);
    g.font = '4.4px '+FONT; g.fillStyle = TXT_COLOR; g.textBaseline='middle';
    g.textAlign='left'; g.fillText(hdrLeft, 8, 4.8);
    g.textAlign='right'; g.fillText(hdrRight, chart.width-3, 4.8);
    g.restore(); } };
  const peakPlugin = { id:'pk'+i, afterDatasetsDraw(chart){
    const xs = chart.scales.x, ys = chart.scales.y, g = chart.ctx; g.save();
    g.font = '4.6px '+FONT; g.fillStyle = TXT_COLOR; g.textAlign='center'; g.textBaseline='bottom';
    for (const [t, txt] of peaks){
      let m = -Infinity; for (const p of data) if (Math.abs(p.x-t) <= 0.035 && p.y > m) m = p.y;
      const py = Math.max(ys.getPixelForValue(Math.min(m, ys.max)), chart.chartArea.top);
      g.fillText(txt, xs.getPixelForValue(t), py - 1);
    }
    g.restore(); } };
  new Chart(cv, {
    type:'line',
    data:{ datasets:[{ data, borderColor:LINE_COLOR, borderWidth:1.05, pointRadius:0, tension:0, fill:false }] },
    options:{
      animation:false, responsive:false, events:[],
      plugins:{ legend:{display:false}, tooltip:{enabled:false} },
      layout:{ padding:{ top:17, right:3, left:0, bottom:0 } },
      scales:{
        x:{ type:'linear', min:PANEL_XMIN[i], max:PANEL_XMAX[i],
            afterFit(s){ s.height = 13; },
            afterBuildTicks(s){ s.ticks = X_TICKS.filter(v => v > s.min+1e-6 && v < s.max-1e-6).map(v => ({value:v})); },
            border:{ color:AXIS_COLOR, width:1 },
            grid:{ drawOnChartArea:false, drawTicks:true, tickLength:2, color:AXIS_COLOR, lineWidth:0.6 },
            ticks:{ autoSkip:false, maxRotation:0, minRotation:0, padding:0, color:TXT_COLOR, font:{size:4.8, family:FONT},
              callback(v){ const L = X_LABELS.find(q => Math.abs(q-v) < 1e-6); return L === undefined ? '' : L.toFixed(1); } },
            title:{ display:true, text:'Time, min', color:TXT_COLOR, font:{size:4, family:FONT}, padding:{top:0,bottom:0} } },
        y:{ type:'linear', min:ymin, max:ymax,
            afterFit(s){ s.width = 24; },
            afterBuildTicks(s){ const t=[]; for (let k=Math.ceil(ymin/ystep-1e-9); k*ystep <= ymax+1e-9; k++) t.push({value:Math.round(k*ystep*1000)/1000}); s.ticks = t; },
            border:{ color:AXIS_COLOR, width:1 },
            grid:{ drawOnChartArea:false, drawTicks:true, tickLength:2, color:AXIS_COLOR, lineWidth:0.6 },
            ticks:{ autoSkip:false, padding:1, color:TXT_COLOR, font:{size:4.2, family:FONT}, callback(v){ return fmtY(v, ydec); } },
            title:{ display:true, text:'Intensity, cps', color:TXT_COLOR, font:{size:4, family:FONT}, padding:{top:0,bottom:0} } }
      }
    },
    plugins:[headerPlugin, peakPlugin]
  });
}

for (let i=0;i<24;i++) makeChart(i);

for (const [pi, kind, rx, cy, serif] of LABEL_POS){
  const c = pi % 4;
  const d = document.createElement('div');
  d.className = 'lbl' + (serif ? ' serif' : '');
  d.textContent = kind === 0 ? COLUMN_NAMES[c] : TRANSITIONS[c];
  d.style.right = (1080 - rx) + 'px'; d.style.top = cy + 'px';
  document.body.appendChild(d);
}
for (let r=0;r<6;r++){
  const d = document.createElement('div'); d.className='cap';
  d.innerHTML = CAPTIONS[r]; d.style.top = CAP_Y[r]+'px';
  document.body.appendChild(d);
}
</script>
</body></html>
